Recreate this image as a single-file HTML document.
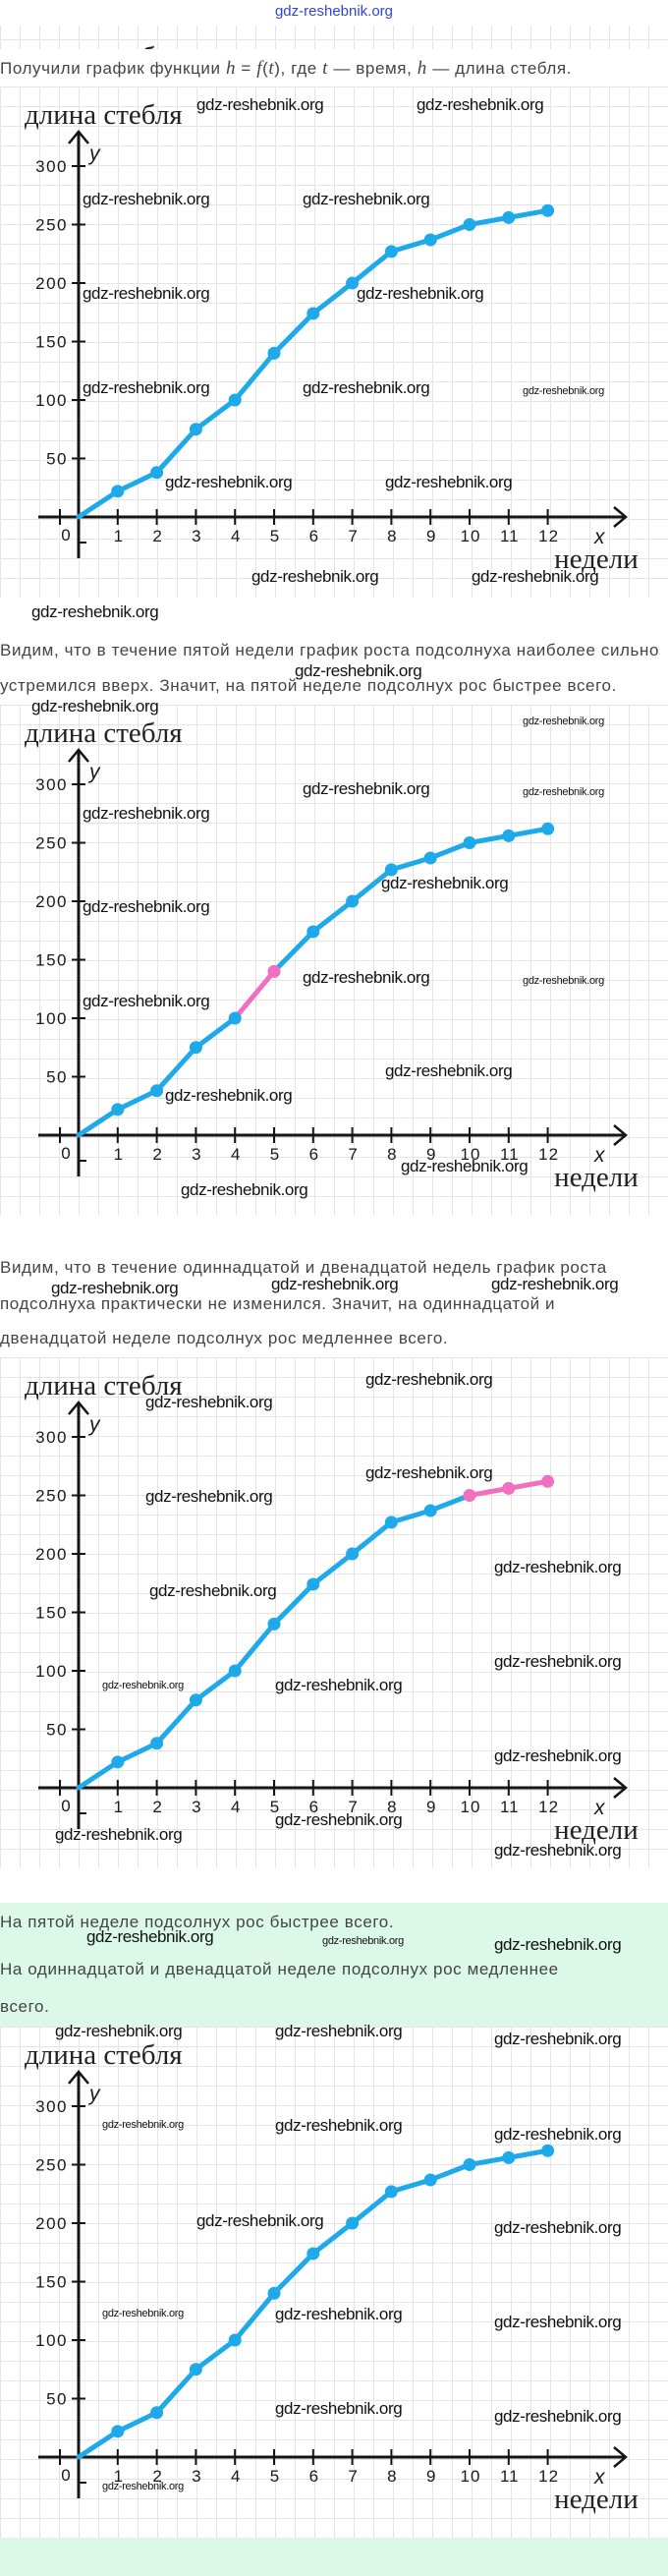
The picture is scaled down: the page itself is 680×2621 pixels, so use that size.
<!DOCTYPE html>
<html><head><meta charset="utf-8">
<style>
html,body{margin:0;padding:0;}
body{width:680px;height:2621px;position:relative;background:#fff;overflow:hidden;font-family:"Liberation Sans","DejaVu Sans",sans-serif;}
.abs{position:absolute;}
.txt{position:absolute;left:0;font-size:17px;color:#444;white-space:nowrap;letter-spacing:0.6px;line-height:20px;}
.wm{position:absolute;font-family:"Liberation Sans",sans-serif;font-size:17px;color:#111;white-space:nowrap;letter-spacing:-0.4px;line-height:20px;}
.wm.s{font-size:11px;letter-spacing:-0.3px;line-height:14px;}
.grid{background-color:#fff;background-image:linear-gradient(#e4e4e4 1px,transparent 1px),linear-gradient(90deg,#e4e4e4 1px,transparent 1px);background-size:20px 20px;}
svg text{font-family:"Liberation Sans",sans-serif;}
</style></head>
<body>
<div class="abs" style="left:0;width:680px;top:3px;text-align:center;color:#3344dd;font-size:15px;">gdz-reshebnik.org</div>
<div class="abs grid" style="left:0;top:26px;width:680px;height:24px;overflow:hidden;background-position:0 14px;">
  <div style="position:absolute;left:25px;top:17px;font-family:'Liberation Serif',serif;font-size:29px;color:#222;line-height:30px;">длина стебля</div>
</div>
<div class="txt" style="top:60px;">Получили график функции <i style="font-family:'Liberation Serif',serif;font-size:19px">h</i> = <i style="font-family:'Liberation Serif',serif;font-size:19px">f</i>(<i style="font-family:'Liberation Serif',serif;font-size:19px">t</i>), где <i style="font-family:'Liberation Serif',serif;font-size:19px">t</i> — время, <i style="font-family:'Liberation Serif',serif;font-size:19px">h</i> — длина стебля.</div>

<div id="c1" class="abs grid" style="left:0;top:88px;width:680px;height:520px;"></div>

<div class="txt" style="top:652px;">Видим, что в течение пятой недели график роста подсолнуха наиболее сильно</div>
<div class="txt" style="top:688px;">устремился вверх. Значит, на пятой неделе подсолнух рос быстрее всего.</div>

<div id="c2" class="abs grid" style="left:0;top:717px;width:680px;height:520px;"></div>

<div class="txt" style="top:1280px;">Видим, что в течение одиннадцатой и двенадцатой недель график роста</div>
<div class="txt" style="top:1317px;">подсолнуха практически не изменился. Значит, на одиннадцатой и</div>
<div class="txt" style="top:1352px;">двенадцатой неделе подсолнух рос медленнее всего.</div>

<div id="c3" class="abs grid" style="left:0;top:1381px;width:680px;height:520px;"></div>

<div class="abs" style="left:0;top:1936px;width:680px;height:685px;background:#dcf8e8;"></div>
<div class="txt" style="top:1946px;">На пятой неделе подсолнух рос быстрее всего.</div>
<div class="txt" style="top:1994px;">На одиннадцатой и двенадцатой неделе подсолнух рос медленнее</div>
<div class="txt" style="top:2032px;">всего.</div>

<div id="c4" class="abs grid" style="left:0;top:2062px;width:680px;height:520px;"></div>

<div id="wms"></div>

<script>
// chart data
const weeks = [0,1,2,3,4,5,6,7,8,9,10,11,12];
const heights = [0,22,38,75,100,140,174,200,227,237,250,256,262];
const yTicks = [50,100,150,200,250,300];
const xTickLabels = ['1','2','3','4','5','6','7','8','9','10','11','12'];
const highlight2 = [4,5];
const highlight3 = [10,11,12];

const X0 = 80, Y0 = 438, XSTEP = 39.8, YSCALE = 1.19;
function xs(v){ return X0 + v*XSTEP; }
function ys(v){ return Y0 - v*YSCALE; }
const NS = 'http://www.w3.org/2000/svg';
function mk(tag, attrs, parent){
  const e = document.createElementNS(NS, tag);
  for (const k in attrs) e.setAttribute(k, attrs[k]);
  parent.appendChild(e); return e;
}
const BLUE = '#1ea9ea', PINK = '#f06fbf';

function drawChart(id, hl){
  const host = document.getElementById(id);
  const svg = mk('svg', {width:680, height:520, viewBox:'0 0 680 520'}, host);
  
  
  const title = mk('text', {x:25, y:38, 'font-size':29, fill:'#222', style:'font-family:"Liberation Serif",serif'}, svg);
  title.textContent = 'длина стебля';
  
  
  const ax = mk('g', {stroke:'#151515', 'stroke-width':3, fill:'none'}, svg);
  
  
  mk('line', {x1:X0, y1:46, x2:X0, y2:480}, ax);
  mk('polyline', {points:`${X0-10},${58} ${X0},${46} ${X0+10},${58}`, 'stroke-width':2.5}, ax);
  mk('line', {x1:39, y1:Y0, x2:637, y2:Y0}, ax);
  mk('polyline', {points:`${625},${Y0-10} ${637},${Y0} ${625},${Y0+10}`, 'stroke-width':2.5}, ax);
  mk('line', {x1:61, y1:Y0-8, x2:61, y2:Y0+8, 'stroke-width':2}, ax);
  mk('line', {x1:X0, y1:Y0+26, x2:X0+8, y2:Y0+26, 'stroke-width':2}, ax);
  xTickLabels.forEach((lab,i)=>{
    const v = i+1;
    mk('line', {x1:xs(v), y1:Y0-8, x2:xs(v), y2:Y0+8, 'stroke-width':2}, ax);
    const t = mk('text', {x:xs(v)+1, y:Y0+25, 'font-size':17, 'font-weight':500, 'text-anchor':'middle', fill:'#1a1a1a', 'letter-spacing':'1'}, svg);
    t.textContent = lab;
    
    
  });
  const z = mk('text', {x:67, y:Y0+24, 'font-size':17, 'text-anchor':'middle', fill:'#1a1a1a'}, svg);
  z.textContent = '0';
  
  
  yTicks.forEach(v=>{
    mk('line', {x1:X0-7, y1:ys(v), x2:X0+7, y2:ys(v), 'stroke-width':2}, ax);
    const t = mk('text', {x:69, y:ys(v)+6, 'font-size':17, 'font-weight':500, 'text-anchor':'end', fill:'#1a1a1a', 'letter-spacing':'1.5'}, svg);
    t.textContent = String(v);
    
    
  });
  const yl = mk('text', {x:91, y:75, 'font-size':21, 'font-style':'italic', fill:'#1a1a1a'}, svg);
  yl.textContent = 'y';
  
  
  const xl = mk('text', {x:605, y:Y0+27, 'font-size':21, 'font-style':'italic', fill:'#1a1a1a'}, svg);
  xl.textContent = 'x';
  
  
  const xt = mk('text', {x:607, y:Y0+52, 'font-size':29, 'text-anchor':'middle', fill:'#222', style:'font-family:"Liberation Serif",serif'}, svg);
  xt.textContent = 'недели';
  
  
  for (let i=0;i<weeks.length-1;i++){
    const pink = hl.includes(weeks[i]) && hl.includes(weeks[i+1]);
    const seg = mk('line', {x1:xs(weeks[i]), y1:ys(heights[i]), x2:xs(weeks[i+1]), y2:ys(heights[i+1]), stroke:pink?PINK:BLUE, 'stroke-width':5, 'stroke-linecap':'round'}, svg);
    
    
  }
  for (let i=1;i<weeks.length;i++){
    const pink = hl.includes(weeks[i]) && !(hl.length==2 && weeks[i]==hl[0]);
    const p = mk('circle', {cx:xs(weeks[i]), cy:ys(heights[i]), r:6.5, fill:pink?PINK:BLUE}, svg);
    
    
  }
}
drawChart('c1', []);
drawChart('c2', highlight2);
drawChart('c3', highlight3);
drawChart('c4', []);

const wmList = [
 [200,108,0],[424,108,0],[84,204,0],[308,204,0],[84,300,0],[363,300,0],[84,396,0],[308,396,0],[532,398,1],[168,492,0],[392,492,0],[256,588,0],[480,588,0],[32,624,0],
 [300,684,0],[32,720,0],[532,734,1],[308,804,0],[532,806,1],[84,829,0],[388,900,0],[84,924,0],[308,996,0],[532,998,1],[84,1020,0],[392,1091,0],[168,1116,0],[408,1188,0],[184,1212,0],
 [52,1312,0],[276,1308,0],[500,1308,0],[372,1405,0],[148,1428,0],[372,1500,0],[148,1524,0],[503,1596,0],[152,1620,0],[503,1692,0],[104,1715,1],[280,1716,0],[503,1788,0],[280,1853,0],[56,1868,0],[503,1884,0],
 [88,1972,0],[328,1975,1],[503,1980,0],[56,2068,0],[280,2068,0],[503,2076,0],[104,2162,1],[280,2164,0],[503,2173,0],[200,2261,0],[503,2268,0],[104,2354,1],[280,2356,0],[503,2364,0],[280,2452,0],[503,2460,0],[104,2530,1]
];
const host = document.getElementById('wms');
wmList.forEach(w=>{
  const d = document.createElement('div');
  d.className = 'wm' + (w[2] ? ' s' : '');
  d.style.left = w[0] + 'px';
  d.style.top = (w[1] - (w[2] ? 7 : 11)) + 'px';
  d.textContent = 'gdz-reshebnik.org';
  
  
  host.appendChild(d);
});
</script>
</body></html>
